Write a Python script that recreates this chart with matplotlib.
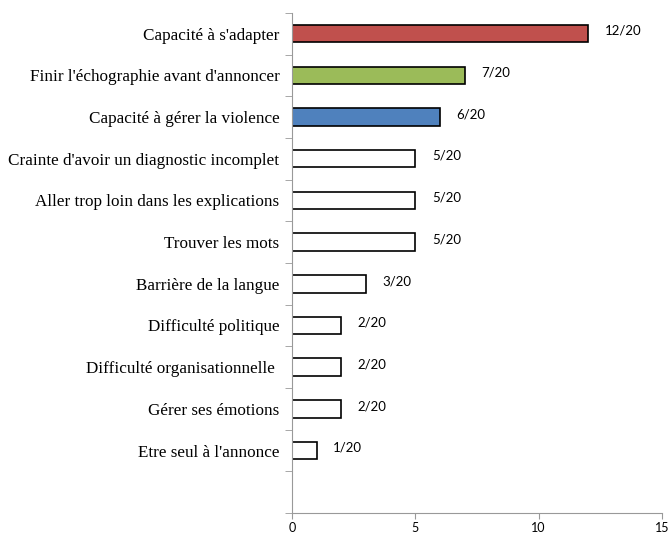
import numpy as np
import matplotlib.pyplot as plt

categories = ["Capacité à s'adapter", "Finir l'échographie avant d'annoncer",
              "Capacité à gérer la violence", "Crainte d'avoir un diagnostic incomplet",
              "Aller trop loin dans les explications", "Trouver les mots",
              "Barrière de la langue", "Difficulté politique",
              "Difficulté organisationnelle ", "Gérer ses émotions",
              "Etre seul à l'annonce"]
values = [12, 7, 6, 5, 5, 5, 3, 2, 2, 2, 1]
labels = ["12/20", "7/20", "6/20", "5/20", "5/20", "5/20", "3/20",
          "2/20", "2/20", "2/20", "1/20"]
colors = ["#C0504D", "#9BBB59", "#4F81BD"] + ["white"] * 8

fig = plt.figure(figsize=(6.68, 5.35), dpi=100)
ax = fig.add_axes([0.437, 0.041, 0.554, 0.935])

n = len(categories)
ypos = np.arange(n, 0, -1)
ax.barh(ypos, values, height=0.42, color=colors, edgecolor="black", linewidth=1.2)

for y, v, lab in zip(ypos, values, labels):
    ax.annotate(lab, (v, y), xytext=(12, 2), textcoords="offset points",
                va="center", ha="left", fontsize=9.5, family="Lato")

ax.set_xlim(0, 15)
ax.set_ylim(-0.5, n + 0.5)
ax.set_xticks([0, 5, 10, 15])
ax.set_xticklabels(["0", "5", "10", "15"], family="Lato", fontsize=9)
ax.set_yticks(ypos)
ax.set_yticklabels(categories, family="Liberation Serif", fontsize=12.3)
ax.set_yticks(np.arange(-0.5, n + 1), minor=True)
ax.tick_params(axis="y", which="major", length=0, pad=9)
ax.tick_params(axis="y", which="minor", length=5, color="#999999")
ax.tick_params(axis="x", length=4, color="#999999", pad=2.5)

for s in ["top", "right"]:
    ax.spines[s].set_visible(False)
for s in ["left", "bottom"]:
    ax.spines[s].set_color("#999999")

fig.savefig("out.png", dpi=100)
